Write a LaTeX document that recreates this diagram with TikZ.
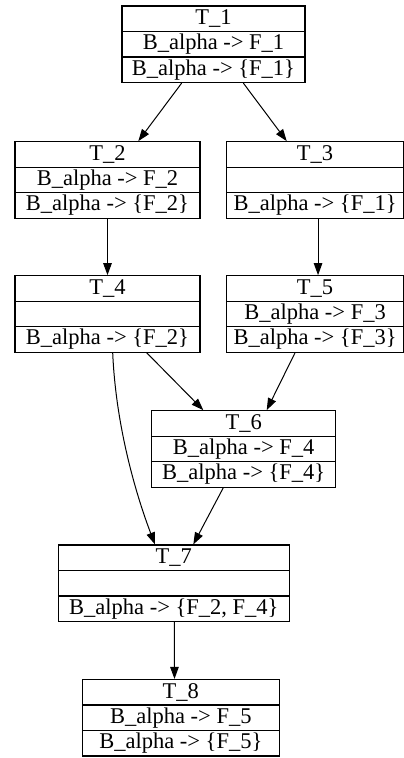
\documentclass[tikz,border=0pt]{standalone}
\usepackage{fontspec}
\setmainfont{Liberation Serif}
\usetikzlibrary{arrows.meta}
\tikzset{
  recbox/.style={draw, line width=1.1pt, inner sep=0pt, minimum height=76.5pt},
  recline/.style={line width=1.1pt},
  rectext/.style={inner sep=0pt, font=\fontsize{22.5}{26}\selectfont},
  edge/.style={line width=1pt, -{Triangle[length=12pt,width=8.5pt]}}
}
\newcommand\recnode[7]{%
  \pgfmathsetmacro\rw{#3-#2}%
  \pgfmathsetmacro\rcx{(#2+#3)/2}%
  \pgfmathsetmacro\rcy{#4+38.25}%
  \node[recbox, minimum width=\rw pt] (#1) at (\rcx,\rcy) {};
  \draw[recline] ([yshift=12.75pt]#1.west) -- ([yshift=12.75pt]#1.east);
  \draw[recline] ([yshift=-12.75pt]#1.west) -- ([yshift=-12.75pt]#1.east);
  \node[rectext] (#1a) at ([yshift=25.5pt]#1.center) {#5};
  \node[rectext] (#1b) at (#1.center) {#6};
  \node[rectext] (#1c) at ([yshift=-25.5pt]#1.center) {#7};
}
\begin{document}
\begin{tikzpicture}[x=1pt,y=-1pt]
\useasboundingbox (0,0) rectangle (404,758);
\recnode{t1}{122}{305}{6}{T\_1}{B\_alpha -> F\_1}{B\_alpha -> \{F\_1\}}
\recnode{t2}{15}{200}{141.7}{T\_2}{B\_alpha -> F\_2}{B\_alpha -> \{F\_2\}}
\recnode{t3}{226.7}{403.4}{141.7}{T\_3}{}{B\_alpha -> \{F\_1\}}
\recnode{t4}{15}{200}{275.7}{T\_4}{}{B\_alpha -> \{F\_2\}}
\recnode{t5}{226.7}{403.4}{275.7}{T\_5}{B\_alpha -> F\_3}{B\_alpha -> \{F\_3\}}
\recnode{t6}{151.7}{335.7}{410.7}{T\_6}{B\_alpha -> F\_4}{B\_alpha -> \{F\_4\}}
\recnode{t7}{58.3}{289.3}{545}{T\_7}{}{B\_alpha -> \{F\_2, F\_4\}}
\recnode{t8}{82.3}{279.3}{679.5}{T\_8}{B\_alpha -> F\_5}{B\_alpha -> \{F\_5\}}
\draw[edge] ([xshift=-31.8pt]t1.south) -- ([xshift=30.8pt]t2.north);
\draw[edge] ([xshift=29.8pt]t1.south) -- ([xshift=-28.3pt]t3.north);
\draw[edge] (t2.south) -- (t4.north);
\draw[edge] ([xshift=3pt]t3.south) -- ([xshift=3pt]t5.north);
\draw[edge] ([xshift=39.2pt]t4.south) -- ([xshift=-40.4pt]t6.north);
\draw[edge] ([xshift=-20pt]t5.south) -- ([xshift=23pt]t6.north);
\draw[edge] ([xshift=5.2pt]t4.south) .. controls (116,430) and (138,500) .. ([xshift=-18.8pt]t7.north);
\draw[edge] ([xshift=-20.4pt]t6.south) -- ([xshift=19.5pt]t7.north);
\draw[edge] ([xshift=0.5pt]t7.south) -- ([xshift=-6.3pt]t8.north);
\end{tikzpicture}
\end{document}
